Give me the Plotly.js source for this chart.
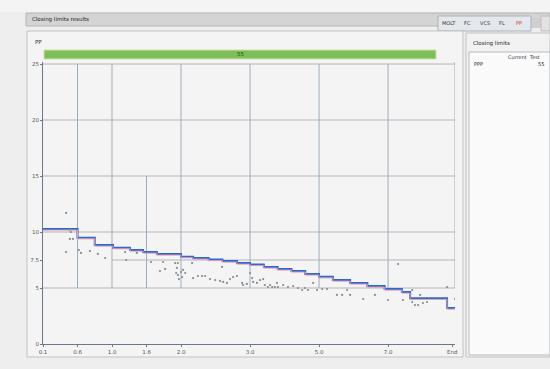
<!DOCTYPE html>
<html><head><meta charset="utf-8">
<script src="https://cdn.plot.ly/plotly-3.0.1.min.js"></script>
<style>html,body{margin:0;padding:0;background:#eeeeee;}#chart{width:550px;height:369px;}</style>
</head><body><div id="chart"></div>
<script>
// ---- data ----
const stepX = [0, 1.0, 1.5, 2.03, 2.52, 2.9, 3.3, 4.0, 4.35, 4.8, 5.2, 5.62, 6.0, 6.4, 6.8, 7.2, 7.6, 8.0, 8.4, 8.9, 9.4, 9.9, 10.4, 10.64, 11.71, 11.94];
const stepY = [10.27, 9.49, 8.84, 8.6, 8.39, 8.21, 8.04, 7.8, 7.68, 7.55, 7.41, 7.23, 7.1, 6.88, 6.70, 6.52, 6.25, 6.0, 5.71, 5.45, 5.18, 4.91, 4.64, 4.08, 3.21, 3.25];
const ptsX = [0.67,0.67,0.78,0.81,0.78,0.87,1.04,1.10,1.36,1.59,1.80,2.38,2.41,2.72,3.13,3.39,3.54,3.48,3.83,3.91,3.86,3.91,4.0,4.03,4.06,3.94,4.12,3.88,4.35,4.32,4.49,4.61,4.70,4.84,4.99,5.13,5.22,5.33,5.19,5.42,5.51,5.62,5.77,5.80,5.91,6.0,6.06,6.09,6.20,6.29,6.38,6.43,6.52,6.58,6.64,6.72,6.78,6.81,6.96,7.10,7.25,7.39,7.51,7.59,7.68,7.83,7.94,8.09,8.23,8.52,8.67,8.81,8.90,9.28,9.62,10.0,10.29,10.43,10.70,10.70,10.78,10.87,10.93,11.01,11.13,11.71,11.94];
const ptsY = [11.70,8.21,10.18,10.0,9.38,9.38,8.39,8.13,8.30,8.04,7.68,8.21,7.50,8.13,7.32,6.52,6.70,7.32,7.23,7.23,6.34,6.16,6.43,5.98,6.61,5.80,6.34,6.79,5.89,7.23,6.07,6.07,6.07,5.80,5.71,5.63,5.54,5.45,6.88,5.80,5.98,6.07,5.45,5.27,5.36,6.34,5.89,5.54,5.45,5.71,5.80,5.27,5.09,5.27,5.09,5.09,5.45,5.09,5.27,5.09,5.18,5.0,4.82,5.0,4.82,5.45,4.82,4.91,4.91,4.38,4.38,4.82,4.38,4.02,4.38,3.93,7.14,3.93,4.82,3.75,3.48,3.48,4.38,3.66,3.75,5.09,4.02];
const xTickVals = [0, 1, 2, 3, 4, 6, 8, 10, 11.86];
const xTickText = ['0.1','0.6','1.0','1.6','2.0','3.0','5.0','7.0','End'];
const yTickVals = [0, 5, 7.5, 10, 15, 20, 25];
const yTickText = ['0','5','7.5','10','15','20','25'];
const tabs = ['MOLT','FC','VCS','FL','PP'];

// ---- layout helpers (pixel -> paper) ----
const L=43,R=455,T=62,B=344, XMAX=11.94, YMAX=25.18;
const X=p=>(p-L)/(R-L), Y=p=>(B-p)/(B-T);
const F='DejaVu Sans';
function rect(x0,y0,x1,y1,fill,line){return {type:'rect',xref:'paper',yref:'paper',x0:X(x0),x1:X(x1),y0:Y(y1),y1:Y(y0),fillcolor:fill,line:{color:line||'rgba(0,0,0,0)',width:line?1:0},layer:'below'};}
function txt(x,y,s,size,color,anchor){return {xref:'paper',yref:'paper',x:X(x),y:Y(y),text:s,showarrow:false,font:{size:size,color:color,family:F},xanchor:anchor||'left',yanchor:'middle'};}
function gl(x0,y0,x1,y1,c){return {type:'line',xref:'x',yref:'y',x0:x0,y0:y0,x1:x1,y1:y1,line:{color:c,width:1},layer:'below'};}

const HC='#b8b2ba', VC='#9fadba';
const shapes = [
  rect(0,0,550,12,'#f4f4f4'),
  rect(26,13,550,26,'#d4d4d4','#b4b4b4'),
  rect(438,16,531,31,'#e4e8ec','#aab2ba'),
  rect(532,18,540,28,'#cfcfcf'),
  rect(541,16,550,31,'#e2e2e2','#bbbbbb'),
  rect(27,31,463,357,'#f4f4f4','#c2c2c2'),
  rect(44,50,436,59,'#7dbd5a','#d4e0a0'),
  rect(466,33,550,357,'#f2f2f2','#c2c2c2'),
  rect(469,52,550,355,'#fafafa','#b6bcc2'),
  // grid
  gl(0,25,XMAX,25,HC), gl(0,20,XMAX,20,HC), gl(0,15,XMAX,15,HC),
  gl(0,10,XMAX,10,HC), gl(2,7.5,XMAX,7.5,HC), gl(0,5,XMAX,5,HC),
  gl(1,5,1,25,VC), gl(2,5,2,25,VC), gl(3,5,3,15,VC), gl(4,5,4,25,VC),
  gl(6,5,6,25,VC), gl(8,5,8,25,VC), gl(10,5,10,25,VC), gl(XMAX,5,XMAX,25.18,VC)
];
const tabX=[449,467,485,502,519];
const ann = [
  txt(30,19.5,'Closing limits results',5.5,'#222'),
  txt(33,42,'PP',5.5,'#333'),
  txt(240,54.5,'55',5.5,'#2a4a1a','center'),
  txt(471,43,'Closing limits',5.5,'#222'),
  txt(524,57,'Current&nbsp;&nbsp;Test',5,'#333','center'),
  txt(472,64,'PPP',5,'#222'),
  txt(546,64,'55',5,'#222','right')
];
tabs.forEach((t,i)=>ann.push(txt(tabX[i],23,t,5,t==='PP'?'#c0392b':'#333','center')));

const traces = [
  {x:stepX,y:stepY,mode:'lines',line:{shape:'hv',color:'#e99aab',width:1},yaxis:'y2',hoverinfo:'skip'},
  {x:stepX,y:stepY,mode:'lines',line:{shape:'hv',color:'#2a68d2',width:2}},
  {x:ptsX,y:ptsY,mode:'markers',marker:{size:2.2,color:'#858c95'}}
];
const layout = {
  width:550,height:369,showlegend:false,
  margin:{l:L,r:550-R,t:T,b:369-B,pad:0},
  paper_bgcolor:'#eeeeee',plot_bgcolor:'rgba(0,0,0,0)',
  xaxis:{range:[0,XMAX],tickvals:xTickVals,ticktext:xTickText,showgrid:false,zeroline:false,showline:true,linecolor:'#6a7888',linewidth:1,ticks:'outside',ticklen:2,tickcolor:'#6a7888',tickfont:{size:5.5,color:'#555',family:F},fixedrange:true},
  yaxis:{range:[0,YMAX],tickvals:yTickVals,ticktext:yTickText,showgrid:false,zeroline:false,showline:true,linecolor:'#6a7888',linewidth:1,ticks:'outside',ticklen:2,tickcolor:'#6a7888',tickfont:{size:5.5,color:'#555',family:F},fixedrange:true},
  yaxis2:{overlaying:'y',range:[0.1,YMAX+0.1],visible:false,fixedrange:true},
  shapes:shapes,annotations:ann
};
Plotly.newPlot('chart',traces,layout,{staticPlot:true,displayModeBar:false});
</script></body></html>
